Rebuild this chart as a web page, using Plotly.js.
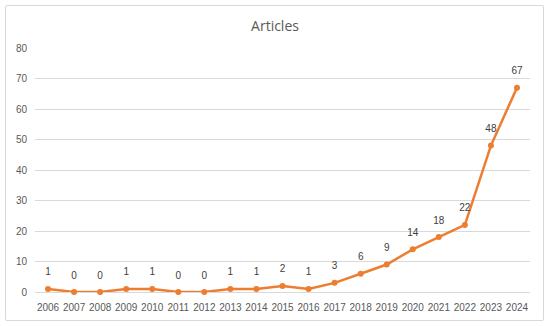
<!DOCTYPE html>
<html><head><meta charset="utf-8">
<script src="https://cdn.plot.ly/plotly-3.0.1.min.js"></script>
<style>
html,body{margin:0;padding:0;background:#fff;}
#chart{width:550px;height:326px;}
#frame{position:absolute;left:5px;top:5px;width:537px;height:314px;border:1px solid #d9d9d9;border-radius:2px;pointer-events:none;}
</style></head>
<body>
<div id="chart"></div>
<div id="frame"></div>
<script>
const years = ['2006','2007','2008','2009','2010','2011','2012','2013','2014','2015','2016','2017','2018','2019','2020','2021','2022','2023','2024'];
const articles = [1,0,0,1,1,0,0,1,1,2,1,3,6,9,14,18,22,48,67];

Plotly.newPlot('chart', [{
  x: years, y: articles, type: 'scatter', mode: 'lines+markers',
  line: {color: '#ED7D31', width: 2.5},
  marker: {color: '#ED7D31', size: 6},
  cliponaxis: false, hoverinfo: 'none'
}, {
  x: years, y: articles, type: 'scatter', mode: 'markers+text',
  text: articles.map(String), textposition: 'top center',
  textfont: {family: 'Liberation Sans, Arial, sans-serif', size: 10, color: '#404040'},
  marker: {color: 'rgba(0,0,0,0)', size: 16},
  cliponaxis: false, hoverinfo: 'none'
}], {
  width: 550, height: 326,
  margin: {l: 35, r: 20, t: 48, b: 34},
  paper_bgcolor: '#ffffff', plot_bgcolor: '#ffffff',
  title: {text: 'Articles', x: 0.5, xanchor: 'center', y: 0.92, yanchor: 'middle',
    font: {family: 'Open Sans, Liberation Sans, sans-serif', size: 14, color: '#595959'}},
  showlegend: false,
  font: {family: 'Liberation Sans, Arial, sans-serif', size: 10, color: '#595959'},
  xaxis: {type: 'category', range: [-0.5, years.length - 0.5], tickangle: 0,
    showgrid: false, showline: false, zeroline: false,
    ticks: 'outside', ticklen: 6, tickcolor: 'rgba(0,0,0,0)',
    tickfont: {size: 10, color: '#595959'}},
  yaxis: {range: [0, 80], dtick: 10, showgrid: true, gridcolor: '#d9d9d9', gridwidth: 1,
    zeroline: true, zerolinecolor: '#d9d9d9', showline: false,
    ticks: 'outside', ticklen: 5, tickcolor: 'rgba(0,0,0,0)',
    tickfont: {size: 10, color: '#595959'}}
}, {staticPlot: true});
</script>
</body></html>
